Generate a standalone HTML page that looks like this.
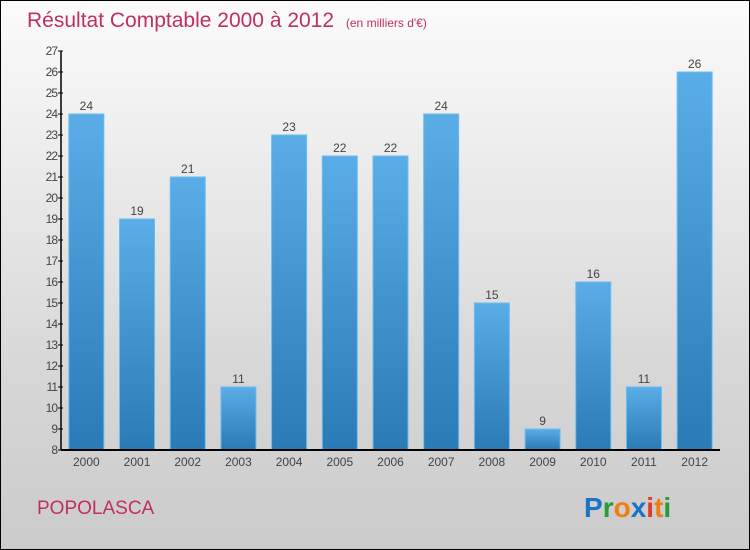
<!DOCTYPE html>
<html><head><meta charset="utf-8"><style>
html,body{margin:0;padding:0}
body{width:750px;height:550px;overflow:hidden;font-family:"Liberation Sans",sans-serif}
#wrap{position:relative;width:748px;height:548px;border:1px solid #000;background:linear-gradient(#fbfbfb,#d6d6d6 70%,#cbcbcb)}
</style></head><body>
<div id="wrap">
<svg id="chart" width="748" height="548" style="position:absolute;left:0;top:0">
<defs><linearGradient id="bg" x1="0" y1="0" x2="0" y2="1"><stop offset="0" stop-color="#5aade6"/><stop offset="1" stop-color="#2a7ab5"/></linearGradient></defs>
<text x="26" y="26" font-size="21" fill="#c0305f">Résultat Comptable 2000 à 2012 <tspan font-size="12" dx="6">(en milliers d'€)</tspan></text>
<text x="36" y="513" font-size="19" fill="#c0305f">POPOLASCA</text>
<text x="583" y="516" font-size="28" font-weight="bold"><tspan fill="#1b73c4">P</tspan><tspan fill="#2a9a3a">r</tspan><tspan fill="#f07c12">o</tspan><tspan fill="#1b73c4">x</tspan><tspan fill="#e23a2a">i</tspan><tspan fill="#f07c12">t</tspan><tspan fill="#2a9a3a">i</tspan></text>
<g id="plot"></g>
</svg>
</div>
<script>
const categories=["2000","2001","2002","2003","2004","2005","2006","2007","2008","2009","2010","2011","2012"];
const values=[24,19,21,11,23,22,22,24,15,9,16,11,26];
const yTicks=[8,9,10,11,12,13,14,15,16,17,18,19,20,21,22,23,24,25,26,27];
const yMin=8,yMax=27,pTop=50,pBottom=449,pLeft=60,pRight=719;
const ns="http://www.w3.org/2000/svg";
const g=document.getElementById("plot");
const yS=v=>pBottom-(v-yMin)/(yMax-yMin)*(pBottom-pTop);
const slot=(pRight-pLeft)/categories.length;
const xc=i=>pLeft+slot*(i+0.5);
function mk(t,a){const e=document.createElementNS(ns,t);for(const k in a)e.setAttribute(k,a[k]);g.appendChild(e);return e;}
values.forEach((v,i)=>{
 const r=mk("rect",{x:xc(i)-17.5,y:yS(v),width:35,height:pBottom-yS(v),fill:"url(#bg)",stroke:"#6cbcf0","stroke-width":1});
 
 
 const t=mk("text",{x:xc(i),y:yS(v)-4,"text-anchor":"middle","font-size":12,fill:"#444"});
 t.textContent=v;
 
 
 const c=mk("text",{x:xc(i),y:pBottom+16,"text-anchor":"middle","font-size":12,fill:"#444"});
 c.textContent=categories[i];
 
 
});
yTicks.forEach(v=>{
 const l=mk("line",{x1:pLeft-3,x2:pLeft+2,y1:yS(v),y2:yS(v),stroke:"#000"});
 
 
 const t=mk("text",{x:pLeft-4,y:yS(v)+4,"text-anchor":"end","font-size":12,fill:"#444","letter-spacing":"-1"});
 t.textContent=v;
 
 
});
const ya=mk("line",{x1:pLeft,x2:pLeft,y1:pTop,y2:pBottom,stroke:"#000","stroke-width":1.5});


const xa=mk("line",{x1:pLeft,x2:pRight,y1:pBottom,y2:pBottom,stroke:"#000","stroke-width":2});


</script>
</body></html>
